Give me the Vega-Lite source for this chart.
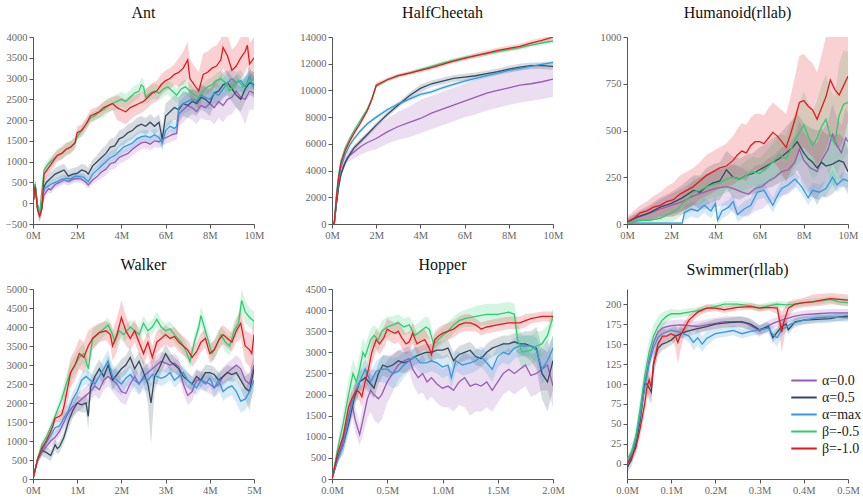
{
"$schema":"https://vega.github.io/schema/vega-lite/v6.json",
"config":{"view":{"stroke":null},"font":"Liberation Serif",
"axis":{"grid":false,"title":null,"labelFont":"Liberation Serif","labelFontSize":10.5,"labelColor":"#666","domainColor":"#555","tickColor":"#555","tickSize":4,"labelPadding":2,"labelFlush":false,"labelOverlap":false,"labelBound":false,"labelSeparation":0},
"axisY":{"labelOverlap":false},"axisX":{"labelOverlap":false},"axisQuantitative":{"labelOverlap":false},
"title":{"font":"Liberation Serif","fontSize":16,"fontWeight":"normal","color":"#111","offset":11,"anchor":"middle"}},
"columns":3,
"spacing":{"row":16,"column":35},
"resolve":{"legend":{"color":"independent"}},
"datasets":{
"ant":[
{"s":"a0","x":0,"y":0,"l":-100,"h":100},{"s":"a0","x":0.1,"y":400,"l":300,"h":500},{"s":"a0","x":0.2,"y":-100,"l":-200,"h":0},{"s":"a0","x":0.3,"y":-250,"l":-350,"h":-150},{"s":"a0","x":0.4,"y":-100,"l":-200,"h":0},{"s":"a0","x":0.5,"y":200,"l":100,"h":300},{"s":"a0","x":0.7,"y":350,"l":250,"h":450},{"s":"a0","x":0.8,"y":320,"l":220,"h":420},{"s":"a0","x":1.0,"y":450,"l":350,"h":550},{"s":"a0","x":1.2,"y":500,"l":400,"h":600},{"s":"a0","x":1.4,"y":560,"l":460,"h":660},{"s":"a0","x":1.6,"y":520,"l":420,"h":620},{"s":"a0","x":1.8,"y":580,"l":480,"h":680},{"s":"a0","x":2.0,"y":600,"l":500,"h":700},{"s":"a0","x":2.2,"y":580,"l":480,"h":680},{"s":"a0","x":2.4,"y":500,"l":400,"h":600},{"s":"a0","x":2.5,"y":440,"l":340,"h":540},{"s":"a0","x":2.7,"y":560,"l":460,"h":660},{"s":"a0","x":2.9,"y":640,"l":540,"h":740},{"s":"a0","x":3.1,"y":750,"l":600,"h":900},{"s":"a0","x":3.3,"y":820,"l":670,"h":970},{"s":"a0","x":3.5,"y":950,"l":800,"h":1100},{"s":"a0","x":3.7,"y":980,"l":830,"h":1130},{"s":"a0","x":3.9,"y":1100,"l":950,"h":1250},{"s":"a0","x":4.1,"y":1150,"l":1000,"h":1300},{"s":"a0","x":4.3,"y":1200,"l":1050,"h":1350},{"s":"a0","x":4.5,"y":1300,"l":1150,"h":1450},{"s":"a0","x":4.7,"y":1380,"l":1230,"h":1530},{"s":"a0","x":4.9,"y":1450,"l":1300,"h":1600},{"s":"a0","x":5.1,"y":1470,"l":1320,"h":1620},{"s":"a0","x":5.3,"y":1420,"l":1270,"h":1570},{"s":"a0","x":5.5,"y":1500,"l":1350,"h":1650},{"s":"a0","x":5.7,"y":1480,"l":1330,"h":1630},{"s":"a0","x":5.9,"y":1550,"l":1400,"h":1700},{"s":"a0","x":6.1,"y":1600,"l":1450,"h":1750},{"s":"a0","x":6.3,"y":1650,"l":1500,"h":1800},{"s":"a0","x":6.5,"y":1680,"l":1530,"h":1830},{"s":"a0","x":6.6,"y":2150,"l":1850,"h":2450},{"s":"a0","x":6.8,"y":2250,"l":1950,"h":2550},{"s":"a0","x":7.0,"y":2350,"l":2050,"h":2650},{"s":"a0","x":7.2,"y":2300,"l":2000,"h":2600},{"s":"a0","x":7.4,"y":2200,"l":1900,"h":2500},{"s":"a0","x":7.6,"y":2350,"l":2050,"h":2650},{"s":"a0","x":7.8,"y":2300,"l":2000,"h":2600},{"s":"a0","x":8.0,"y":2400,"l":2000,"h":2800},{"s":"a0","x":8.2,"y":2300,"l":1900,"h":2700},{"s":"a0","x":8.4,"y":2450,"l":2050,"h":2850},{"s":"a0","x":8.6,"y":2350,"l":1950,"h":2750},{"s":"a0","x":8.8,"y":2500,"l":2100,"h":2900},{"s":"a0","x":9.0,"y":2550,"l":2150,"h":2950},{"s":"a0","x":9.2,"y":2700,"l":2300,"h":3100},{"s":"a0","x":9.4,"y":2550,"l":2150,"h":2950},{"s":"a0","x":9.6,"y":2500,"l":1900,"h":3000},{"s":"a0","x":9.8,"y":2700,"l":2250,"h":3150},{"s":"a0","x":10,"y":2650,"l":2250,"h":3050},
{"s":"a5","x":0,"y":0,"l":-150,"h":150},{"s":"a5","x":0.1,"y":450,"l":300,"h":600},{"s":"a5","x":0.2,"y":-50,"l":-200,"h":100},{"s":"a5","x":0.3,"y":-300,"l":-450,"h":-150},{"s":"a5","x":0.4,"y":-100,"l":-250,"h":50},{"s":"a5","x":0.5,"y":400,"l":250,"h":550},{"s":"a5","x":0.6,"y":500,"l":350,"h":650},{"s":"a5","x":0.8,"y":600,"l":450,"h":750},{"s":"a5","x":1.0,"y":700,"l":550,"h":850},{"s":"a5","x":1.2,"y":750,"l":600,"h":900},{"s":"a5","x":1.4,"y":800,"l":650,"h":950},{"s":"a5","x":1.5,"y":730,"l":580,"h":880},{"s":"a5","x":1.6,"y":650,"l":500,"h":800},{"s":"a5","x":1.8,"y":700,"l":550,"h":850},{"s":"a5","x":2.0,"y":720,"l":570,"h":870},{"s":"a5","x":2.2,"y":800,"l":650,"h":950},{"s":"a5","x":2.4,"y":760,"l":610,"h":910},{"s":"a5","x":2.5,"y":700,"l":550,"h":850},{"s":"a5","x":2.7,"y":900,"l":750,"h":1050},{"s":"a5","x":2.9,"y":1000,"l":850,"h":1150},{"s":"a5","x":3.1,"y":1100,"l":900,"h":1300},{"s":"a5","x":3.3,"y":1200,"l":1000,"h":1400},{"s":"a5","x":3.5,"y":1350,"l":1150,"h":1550},{"s":"a5","x":3.7,"y":1380,"l":1180,"h":1580},{"s":"a5","x":3.9,"y":1550,"l":1350,"h":1750},{"s":"a5","x":4.1,"y":1600,"l":1400,"h":1800},{"s":"a5","x":4.3,"y":1700,"l":1500,"h":1900},{"s":"a5","x":4.5,"y":1750,"l":1550,"h":1950},{"s":"a5","x":4.7,"y":1850,"l":1650,"h":2050},{"s":"a5","x":4.9,"y":1900,"l":1700,"h":2100},{"s":"a5","x":5.1,"y":1850,"l":1650,"h":2050},{"s":"a5","x":5.3,"y":1950,"l":1750,"h":2150},{"s":"a5","x":5.5,"y":1850,"l":1650,"h":2050},{"s":"a5","x":5.7,"y":1950,"l":1750,"h":2150},{"s":"a5","x":5.85,"y":1550,"l":1250,"h":1850},{"s":"a5","x":6.0,"y":2100,"l":1800,"h":2400},{"s":"a5","x":6.2,"y":2200,"l":1900,"h":2500},{"s":"a5","x":6.4,"y":2300,"l":2000,"h":2600},{"s":"a5","x":6.6,"y":2250,"l":1950,"h":2550},{"s":"a5","x":6.8,"y":2400,"l":2100,"h":2700},{"s":"a5","x":7.0,"y":2350,"l":2050,"h":2650},{"s":"a5","x":7.2,"y":2450,"l":2150,"h":2750},{"s":"a5","x":7.4,"y":2400,"l":2100,"h":2700},{"s":"a5","x":7.6,"y":2550,"l":2250,"h":2850},{"s":"a5","x":7.8,"y":2500,"l":2200,"h":2800},{"s":"a5","x":8.0,"y":2400,"l":2100,"h":2700},{"s":"a5","x":8.2,"y":2650,"l":2350,"h":2950},{"s":"a5","x":8.4,"y":2700,"l":2400,"h":3000},{"s":"a5","x":8.6,"y":2850,"l":2550,"h":3150},{"s":"a5","x":8.8,"y":2900,"l":2600,"h":3200},{"s":"a5","x":9.0,"y":2750,"l":2450,"h":3050},{"s":"a5","x":9.2,"y":2600,"l":2300,"h":2900},{"s":"a5","x":9.4,"y":2500,"l":2200,"h":2800},{"s":"a5","x":9.6,"y":2750,"l":2450,"h":3050},{"s":"a5","x":9.8,"y":2900,"l":2600,"h":3200},{"s":"a5","x":10,"y":2850,"l":2550,"h":3150},
{"s":"am","x":0,"y":0,"l":-100,"h":100},{"s":"am","x":0.1,"y":420,"l":320,"h":520},{"s":"am","x":0.2,"y":-100,"l":-200,"h":0},{"s":"am","x":0.3,"y":-280,"l":-380,"h":-180},{"s":"am","x":0.4,"y":-50,"l":-150,"h":50},{"s":"am","x":0.5,"y":350,"l":250,"h":450},{"s":"am","x":0.7,"y":420,"l":320,"h":520},{"s":"am","x":0.9,"y":480,"l":380,"h":580},{"s":"am","x":1.1,"y":520,"l":420,"h":620},{"s":"am","x":1.3,"y":580,"l":480,"h":680},{"s":"am","x":1.5,"y":600,"l":500,"h":700},{"s":"am","x":1.7,"y":580,"l":480,"h":680},{"s":"am","x":1.9,"y":650,"l":550,"h":750},{"s":"am","x":2.1,"y":640,"l":540,"h":740},{"s":"am","x":2.3,"y":620,"l":520,"h":720},{"s":"am","x":2.5,"y":520,"l":420,"h":620},{"s":"am","x":2.7,"y":700,"l":600,"h":800},{"s":"am","x":2.9,"y":800,"l":700,"h":900},{"s":"am","x":3.1,"y":900,"l":750,"h":1050},{"s":"am","x":3.3,"y":1000,"l":850,"h":1150},{"s":"am","x":3.5,"y":1100,"l":950,"h":1250},{"s":"am","x":3.7,"y":1150,"l":1000,"h":1300},{"s":"am","x":3.9,"y":1250,"l":1100,"h":1400},{"s":"am","x":4.1,"y":1350,"l":1200,"h":1500},{"s":"am","x":4.3,"y":1400,"l":1250,"h":1550},{"s":"am","x":4.5,"y":1450,"l":1300,"h":1600},{"s":"am","x":4.7,"y":1550,"l":1400,"h":1700},{"s":"am","x":4.9,"y":1600,"l":1450,"h":1750},{"s":"am","x":5.1,"y":1620,"l":1470,"h":1770},{"s":"am","x":5.3,"y":1580,"l":1430,"h":1730},{"s":"am","x":5.5,"y":1650,"l":1500,"h":1800},{"s":"am","x":5.7,"y":1580,"l":1430,"h":1730},{"s":"am","x":5.85,"y":1450,"l":1300,"h":1600},{"s":"am","x":6.0,"y":1750,"l":1600,"h":1900},{"s":"am","x":6.2,"y":1850,"l":1700,"h":2000},{"s":"am","x":6.4,"y":1800,"l":1650,"h":1950},{"s":"am","x":6.5,"y":1850,"l":1700,"h":2000},{"s":"am","x":6.6,"y":2300,"l":2050,"h":2550},{"s":"am","x":6.8,"y":2400,"l":2150,"h":2650},{"s":"am","x":7.0,"y":2450,"l":2200,"h":2700},{"s":"am","x":7.2,"y":2500,"l":2250,"h":2750},{"s":"am","x":7.4,"y":2450,"l":2200,"h":2700},{"s":"am","x":7.6,"y":2600,"l":2350,"h":2850},{"s":"am","x":7.8,"y":2550,"l":2300,"h":2800},{"s":"am","x":8.0,"y":2500,"l":2250,"h":2750},{"s":"am","x":8.2,"y":2650,"l":2400,"h":2900},{"s":"am","x":8.4,"y":2600,"l":2350,"h":2850},{"s":"am","x":8.6,"y":2750,"l":2500,"h":3000},{"s":"am","x":8.8,"y":2900,"l":2650,"h":3150},{"s":"am","x":9.0,"y":3000,"l":2750,"h":3250},{"s":"am","x":9.2,"y":2900,"l":2650,"h":3150},{"s":"am","x":9.4,"y":2950,"l":2700,"h":3200},{"s":"am","x":9.6,"y":2800,"l":2550,"h":3050},{"s":"am","x":9.8,"y":3050,"l":2800,"h":3300},{"s":"am","x":10,"y":2750,"l":2500,"h":3000},
{"s":"b5","x":0,"y":0,"l":-120,"h":120},{"s":"b5","x":0.1,"y":450,"l":330,"h":570},{"s":"b5","x":0.2,"y":-50,"l":-170,"h":70},{"s":"b5","x":0.3,"y":-250,"l":-370,"h":-130},{"s":"b5","x":0.4,"y":300,"l":180,"h":420},{"s":"b5","x":0.5,"y":800,"l":680,"h":920},{"s":"b5","x":0.7,"y":950,"l":830,"h":1070},{"s":"b5","x":0.9,"y":1050,"l":930,"h":1170},{"s":"b5","x":1.1,"y":1150,"l":1030,"h":1270},{"s":"b5","x":1.3,"y":1200,"l":1050,"h":1350},{"s":"b5","x":1.5,"y":1300,"l":1150,"h":1450},{"s":"b5","x":1.7,"y":1350,"l":1200,"h":1500},{"s":"b5","x":1.9,"y":1450,"l":1330,"h":1570},{"s":"b5","x":2.0,"y":1600,"l":1480,"h":1720},{"s":"b5","x":2.2,"y":1750,"l":1630,"h":1870},{"s":"b5","x":2.4,"y":1900,"l":1780,"h":2020},{"s":"b5","x":2.6,"y":2050,"l":1930,"h":2170},{"s":"b5","x":2.8,"y":2100,"l":1980,"h":2220},{"s":"b5","x":3.0,"y":2200,"l":2050,"h":2350},{"s":"b5","x":3.2,"y":2250,"l":2070,"h":2430},{"s":"b5","x":3.4,"y":2350,"l":2170,"h":2530},{"s":"b5","x":3.6,"y":2400,"l":2220,"h":2580},{"s":"b5","x":3.8,"y":2450,"l":2270,"h":2630},{"s":"b5","x":4.0,"y":2500,"l":2320,"h":2680},{"s":"b5","x":4.2,"y":2450,"l":2270,"h":2630},{"s":"b5","x":4.4,"y":2550,"l":2370,"h":2730},{"s":"b5","x":4.6,"y":2650,"l":2470,"h":2830},{"s":"b5","x":4.8,"y":2700,"l":2520,"h":2880},{"s":"b5","x":4.9,"y":2850,"l":2670,"h":3030},{"s":"b5","x":5.0,"y":2800,"l":2620,"h":2980},{"s":"b5","x":5.1,"y":2550,"l":2370,"h":2730},{"s":"b5","x":5.3,"y":2650,"l":2470,"h":2830},{"s":"b5","x":5.5,"y":2700,"l":2520,"h":2880},{"s":"b5","x":5.7,"y":2650,"l":2470,"h":2830},{"s":"b5","x":5.9,"y":2750,"l":2570,"h":2930},{"s":"b5","x":6.1,"y":2800,"l":2620,"h":2980},{"s":"b5","x":6.3,"y":2700,"l":2520,"h":2880},{"s":"b5","x":6.5,"y":2600,"l":2420,"h":2780},{"s":"b5","x":6.7,"y":2750,"l":2570,"h":2930},{"s":"b5","x":6.9,"y":2800,"l":2620,"h":2980},{"s":"b5","x":7.1,"y":2700,"l":2520,"h":2880},{"s":"b5","x":7.3,"y":2600,"l":2420,"h":2780},{"s":"b5","x":7.5,"y":2550,"l":2370,"h":2730},{"s":"b5","x":7.7,"y":2700,"l":2520,"h":2880},{"s":"b5","x":7.9,"y":2800,"l":2620,"h":2980},{"s":"b5","x":8.1,"y":2850,"l":2670,"h":3030},{"s":"b5","x":8.3,"y":2950,"l":2770,"h":3130},{"s":"b5","x":8.5,"y":3000,"l":2820,"h":3180},{"s":"b5","x":8.7,"y":2900,"l":2720,"h":3080},{"s":"b5","x":8.9,"y":2700,"l":2520,"h":2880},{"s":"b5","x":9.1,"y":2850,"l":2670,"h":3030},{"s":"b5","x":9.3,"y":2950,"l":2770,"h":3130},{"s":"b5","x":9.5,"y":2800,"l":2620,"h":2980},{"s":"b5","x":9.7,"y":2900,"l":2720,"h":3080},{"s":"b5","x":9.9,"y":2950,"l":2770,"h":3130},{"s":"b5","x":10,"y":3000,"l":2820,"h":3180},
{"s":"b1","x":0,"y":0,"l":-150,"h":150},{"s":"b1","x":0.1,"y":400,"l":250,"h":550},{"s":"b1","x":0.2,"y":-150,"l":-300,"h":0},{"s":"b1","x":0.3,"y":-300,"l":-450,"h":-150},{"s":"b1","x":0.4,"y":-150,"l":-300,"h":0},{"s":"b1","x":0.5,"y":700,"l":550,"h":850},{"s":"b1","x":0.7,"y":850,"l":700,"h":1000},{"s":"b1","x":0.9,"y":1000,"l":850,"h":1150},{"s":"b1","x":1.1,"y":1150,"l":1000,"h":1300},{"s":"b1","x":1.3,"y":1200,"l":1050,"h":1350},{"s":"b1","x":1.5,"y":1300,"l":1150,"h":1450},{"s":"b1","x":1.7,"y":1350,"l":1200,"h":1500},{"s":"b1","x":1.9,"y":1450,"l":1300,"h":1600},{"s":"b1","x":2.0,"y":1700,"l":1550,"h":1850},{"s":"b1","x":2.2,"y":1750,"l":1600,"h":1900},{"s":"b1","x":2.4,"y":1900,"l":1750,"h":2050},{"s":"b1","x":2.6,"y":2100,"l":1950,"h":2250},{"s":"b1","x":2.8,"y":2150,"l":2000,"h":2300},{"s":"b1","x":3.0,"y":2200,"l":2050,"h":2350},{"s":"b1","x":3.2,"y":2300,"l":2150,"h":2450},{"s":"b1","x":3.4,"y":2350,"l":2200,"h":2500},{"s":"b1","x":3.6,"y":2400,"l":2250,"h":2550},{"s":"b1","x":3.8,"y":2300,"l":2000,"h":2600},{"s":"b1","x":4.0,"y":2250,"l":1950,"h":2550},{"s":"b1","x":4.2,"y":2200,"l":1900,"h":2500},{"s":"b1","x":4.4,"y":2300,"l":2000,"h":2600},{"s":"b1","x":4.6,"y":2350,"l":2100,"h":2600},{"s":"b1","x":4.8,"y":2400,"l":2150,"h":2650},{"s":"b1","x":5.0,"y":2450,"l":2200,"h":2700},{"s":"b1","x":5.2,"y":2550,"l":2300,"h":2800},{"s":"b1","x":5.4,"y":2650,"l":2400,"h":2900},{"s":"b1","x":5.6,"y":2700,"l":2450,"h":2950},{"s":"b1","x":5.8,"y":2850,"l":2600,"h":3100},{"s":"b1","x":6.0,"y":2950,"l":2700,"h":3200},{"s":"b1","x":6.2,"y":3000,"l":2750,"h":3250},{"s":"b1","x":6.4,"y":3100,"l":2850,"h":3350},{"s":"b1","x":6.6,"y":3150,"l":2800,"h":3500},{"s":"b1","x":6.8,"y":3250,"l":2850,"h":3650},{"s":"b1","x":7.0,"y":3450,"l":3000,"h":3900},{"s":"b1","x":7.1,"y":3000,"l":2550,"h":3450},{"s":"b1","x":7.3,"y":2850,"l":2400,"h":3300},{"s":"b1","x":7.5,"y":2700,"l":2250,"h":3150},{"s":"b1","x":7.7,"y":3100,"l":2600,"h":3600},{"s":"b1","x":7.9,"y":3150,"l":2650,"h":3650},{"s":"b1","x":8.1,"y":3250,"l":2750,"h":3750},{"s":"b1","x":8.3,"y":3300,"l":2800,"h":3800},{"s":"b1","x":8.5,"y":3450,"l":2950,"h":3950},{"s":"b1","x":8.6,"y":3750,"l":3250,"h":4250},{"s":"b1","x":8.8,"y":3550,"l":3050,"h":4050},{"s":"b1","x":9.0,"y":3200,"l":2700,"h":3700},{"s":"b1","x":9.2,"y":3300,"l":2800,"h":3800},{"s":"b1","x":9.4,"y":3500,"l":3000,"h":4000},{"s":"b1","x":9.6,"y":3650,"l":3150,"h":4150},{"s":"b1","x":9.7,"y":3800,"l":3300,"h":4300},{"s":"b1","x":9.8,"y":3350,"l":2850,"h":3850},{"s":"b1","x":10,"y":3500,"l":3000,"h":4000}
],
"hc":[
{"s":"a0","x":0,"y":0,"l":0,"h":0},{"s":"a0","x":0.1,"y":0,"l":0,"h":200},{"s":"a0","x":0.2,"y":1500,"l":1300,"h":1700},{"s":"a0","x":0.3,"y":2800,"l":2600,"h":3000},{"s":"a0","x":0.4,"y":3700,"l":3450,"h":3950},{"s":"a0","x":0.5,"y":4300,"l":4000,"h":4600},{"s":"a0","x":0.7,"y":5000,"l":4600,"h":5400},{"s":"a0","x":1.0,"y":5400,"l":4900,"h":5900},{"s":"a0","x":1.3,"y":5800,"l":5200,"h":6400},{"s":"a0","x":1.6,"y":6100,"l":5400,"h":6800},{"s":"a0","x":2.0,"y":6400,"l":5600,"h":7400},{"s":"a0","x":2.5,"y":6900,"l":6000,"h":7900},{"s":"a0","x":3.0,"y":7300,"l":6300,"h":8400},{"s":"a0","x":3.5,"y":7600,"l":6500,"h":8800},{"s":"a0","x":4.0,"y":7900,"l":6800,"h":9300},{"s":"a0","x":4.5,"y":8300,"l":7100,"h":9600},{"s":"a0","x":5.0,"y":8600,"l":7400,"h":9900},{"s":"a0","x":5.5,"y":8900,"l":7700,"h":10200},{"s":"a0","x":6.0,"y":9200,"l":8000,"h":10500},{"s":"a0","x":6.5,"y":9500,"l":8200,"h":10800},{"s":"a0","x":7.0,"y":9800,"l":8500,"h":11000},{"s":"a0","x":7.5,"y":10000,"l":8700,"h":11200},{"s":"a0","x":8.0,"y":10200,"l":8900,"h":11400},{"s":"a0","x":8.5,"y":10400,"l":9100,"h":11600},{"s":"a0","x":9.0,"y":10500,"l":9200,"h":11700},{"s":"a0","x":9.5,"y":10650,"l":9350,"h":11800},{"s":"a0","x":10,"y":10850,"l":9500,"h":11800},
{"s":"a5","x":0,"y":0,"l":0,"h":0},{"s":"a5","x":0.1,"y":0,"l":0,"h":200},{"s":"a5","x":0.2,"y":1500,"l":1300,"h":1700},{"s":"a5","x":0.3,"y":2800,"l":2600,"h":3000},{"s":"a5","x":0.4,"y":3700,"l":3500,"h":3900},{"s":"a5","x":0.6,"y":4600,"l":4400,"h":4800},{"s":"a5","x":0.8,"y":5200,"l":5000,"h":5400},{"s":"a5","x":1.0,"y":5700,"l":5500,"h":5900},{"s":"a5","x":1.3,"y":6200,"l":6000,"h":6400},{"s":"a5","x":1.6,"y":6700,"l":6500,"h":6900},{"s":"a5","x":2.0,"y":7400,"l":7200,"h":7600},{"s":"a5","x":2.5,"y":8200,"l":8000,"h":8400},{"s":"a5","x":3.0,"y":8900,"l":8700,"h":9100},{"s":"a5","x":3.5,"y":9600,"l":9350,"h":9850},{"s":"a5","x":4.0,"y":10150,"l":9850,"h":10450},{"s":"a5","x":4.5,"y":10500,"l":10250,"h":10750},{"s":"a5","x":5.0,"y":10700,"l":10450,"h":10950},{"s":"a5","x":5.5,"y":10900,"l":10650,"h":11150},{"s":"a5","x":6.0,"y":11000,"l":10750,"h":11250},{"s":"a5","x":6.5,"y":11100,"l":10850,"h":11350},{"s":"a5","x":7.0,"y":11250,"l":11000,"h":11500},{"s":"a5","x":7.5,"y":11400,"l":11150,"h":11650},{"s":"a5","x":8.0,"y":11600,"l":11350,"h":11850},{"s":"a5","x":8.5,"y":11750,"l":11500,"h":12000},{"s":"a5","x":9.0,"y":11850,"l":11600,"h":12100},{"s":"a5","x":9.5,"y":11850,"l":11600,"h":12100},{"s":"a5","x":10,"y":11800,"l":11550,"h":12050},
{"s":"am","x":0,"y":0,"l":0,"h":0},{"s":"am","x":0.1,"y":0,"l":0,"h":150},{"s":"am","x":0.2,"y":1800,"l":1650,"h":1950},{"s":"am","x":0.3,"y":3200,"l":3050,"h":3350},{"s":"am","x":0.4,"y":4200,"l":4050,"h":4350},{"s":"am","x":0.6,"y":5200,"l":5050,"h":5350},{"s":"am","x":0.8,"y":5900,"l":5750,"h":6050},{"s":"am","x":1.0,"y":6400,"l":6250,"h":6550},{"s":"am","x":1.3,"y":7000,"l":6850,"h":7150},{"s":"am","x":1.6,"y":7500,"l":7350,"h":7650},{"s":"am","x":2.0,"y":8000,"l":7850,"h":8150},{"s":"am","x":2.5,"y":8550,"l":8400,"h":8700},{"s":"am","x":3.0,"y":9000,"l":8850,"h":9150},{"s":"am","x":3.5,"y":9350,"l":9200,"h":9500},{"s":"am","x":4.0,"y":9700,"l":9550,"h":9850},{"s":"am","x":4.5,"y":9900,"l":9750,"h":10050},{"s":"am","x":5.0,"y":10200,"l":10050,"h":10350},{"s":"am","x":5.5,"y":10450,"l":10300,"h":10600},{"s":"am","x":6.0,"y":10700,"l":10550,"h":10850},{"s":"am","x":6.5,"y":10900,"l":10750,"h":11050},{"s":"am","x":7.0,"y":11100,"l":10950,"h":11250},{"s":"am","x":7.5,"y":11300,"l":11150,"h":11450},{"s":"am","x":8.0,"y":11500,"l":11350,"h":11650},{"s":"am","x":8.5,"y":11650,"l":11500,"h":11800},{"s":"am","x":9.0,"y":11800,"l":11650,"h":11950},{"s":"am","x":9.5,"y":11950,"l":11800,"h":12100},{"s":"am","x":10,"y":12100,"l":11950,"h":12250},
{"s":"b5","x":0,"y":0,"l":0,"h":0},{"s":"b5","x":0.1,"y":0,"l":0,"h":120},{"s":"b5","x":0.2,"y":2200,"l":2080,"h":2320},{"s":"b5","x":0.3,"y":3700,"l":3580,"h":3820},{"s":"b5","x":0.4,"y":4700,"l":4580,"h":4820},{"s":"b5","x":0.6,"y":5700,"l":5580,"h":5820},{"s":"b5","x":0.8,"y":6400,"l":6280,"h":6520},{"s":"b5","x":1.0,"y":7000,"l":6880,"h":7120},{"s":"b5","x":1.3,"y":7800,"l":7680,"h":7920},{"s":"b5","x":1.6,"y":8600,"l":8480,"h":8720},{"s":"b5","x":1.8,"y":9400,"l":9280,"h":9520},{"s":"b5","x":2.0,"y":10300,"l":10180,"h":10420},{"s":"b5","x":2.5,"y":10800,"l":10680,"h":10920},{"s":"b5","x":3.0,"y":11100,"l":10980,"h":11220},{"s":"b5","x":3.5,"y":11300,"l":11180,"h":11420},{"s":"b5","x":4.0,"y":11550,"l":11430,"h":11670},{"s":"b5","x":4.5,"y":11800,"l":11650,"h":11950},{"s":"b5","x":5.0,"y":12050,"l":11900,"h":12200},{"s":"b5","x":5.5,"y":12250,"l":12100,"h":12400},{"s":"b5","x":6.0,"y":12450,"l":12300,"h":12600},{"s":"b5","x":6.5,"y":12600,"l":12450,"h":12750},{"s":"b5","x":7.0,"y":12750,"l":12600,"h":12900},{"s":"b5","x":7.5,"y":12900,"l":12750,"h":13050},{"s":"b5","x":8.0,"y":13050,"l":12900,"h":13200},{"s":"b5","x":8.5,"y":13200,"l":13050,"h":13350},{"s":"b5","x":9.0,"y":13400,"l":13250,"h":13550},{"s":"b5","x":9.5,"y":13550,"l":13400,"h":13700},{"s":"b5","x":10,"y":13700,"l":13550,"h":13850},
{"s":"b1","x":0,"y":0,"l":0,"h":0},{"s":"b1","x":0.1,"y":0,"l":0,"h":150},{"s":"b1","x":0.2,"y":2000,"l":1850,"h":2150},{"s":"b1","x":0.3,"y":3500,"l":3350,"h":3650},{"s":"b1","x":0.4,"y":4500,"l":4350,"h":4650},{"s":"b1","x":0.6,"y":5500,"l":5350,"h":5650},{"s":"b1","x":0.8,"y":6200,"l":6050,"h":6350},{"s":"b1","x":1.0,"y":6800,"l":6650,"h":6950},{"s":"b1","x":1.3,"y":7600,"l":7450,"h":7750},{"s":"b1","x":1.6,"y":8500,"l":8350,"h":8650},{"s":"b1","x":1.8,"y":9300,"l":9150,"h":9450},{"s":"b1","x":2.0,"y":10400,"l":10200,"h":10600},{"s":"b1","x":2.5,"y":10800,"l":10650,"h":10950},{"s":"b1","x":3.0,"y":11100,"l":10950,"h":11250},{"s":"b1","x":3.5,"y":11300,"l":11150,"h":11450},{"s":"b1","x":4.0,"y":11500,"l":11350,"h":11650},{"s":"b1","x":4.5,"y":11700,"l":11550,"h":11850},{"s":"b1","x":5.0,"y":11950,"l":11800,"h":12100},{"s":"b1","x":5.5,"y":12200,"l":12050,"h":12350},{"s":"b1","x":6.0,"y":12400,"l":12250,"h":12550},{"s":"b1","x":6.5,"y":12600,"l":12400,"h":12800},{"s":"b1","x":7.0,"y":12800,"l":12600,"h":13000},{"s":"b1","x":7.5,"y":13000,"l":12800,"h":13200},{"s":"b1","x":8.0,"y":13150,"l":12950,"h":13350},{"s":"b1","x":8.5,"y":13300,"l":13100,"h":13500},{"s":"b1","x":9.0,"y":13550,"l":13350,"h":13750},{"s":"b1","x":9.5,"y":13750,"l":13550,"h":13950},{"s":"b1","x":10,"y":14000,"l":13800,"h":14150}
],
"hum":[
{"s":"a0","x":0,"y":10,"l":0,"h":30},{"s":"a0","x":0.5,"y":35,"l":10,"h":60},{"s":"a0","x":1.0,"y":55,"l":20,"h":90},{"s":"a0","x":1.5,"y":80,"l":30,"h":130},{"s":"a0","x":2.0,"y":100,"l":40,"h":160},{"s":"a0","x":2.5,"y":120,"l":50,"h":190},{"s":"a0","x":3.0,"y":150,"l":70,"h":230},{"s":"a0","x":3.5,"y":170,"l":80,"h":260},{"s":"a0","x":4.0,"y":190,"l":90,"h":290},{"s":"a0","x":4.5,"y":200,"l":100,"h":300},{"s":"a0","x":4.8,"y":190,"l":60,"h":320},{"s":"a0","x":5.2,"y":170,"l":40,"h":300},{"s":"a0","x":5.5,"y":160,"l":40,"h":280},{"s":"a0","x":5.8,"y":190,"l":70,"h":310},{"s":"a0","x":6.1,"y":200,"l":80,"h":320},{"s":"a0","x":6.4,"y":230,"l":110,"h":350},{"s":"a0","x":6.7,"y":250,"l":130,"h":370},{"s":"a0","x":7.0,"y":280,"l":150,"h":410},{"s":"a0","x":7.3,"y":290,"l":160,"h":420},{"s":"a0","x":7.6,"y":330,"l":190,"h":470},{"s":"a0","x":7.8,"y":400,"l":250,"h":550},{"s":"a0","x":8.0,"y":340,"l":190,"h":490},{"s":"a0","x":8.3,"y":300,"l":150,"h":450},{"s":"a0","x":8.6,"y":280,"l":130,"h":430},{"s":"a0","x":8.8,"y":340,"l":190,"h":490},{"s":"a0","x":9.1,"y":400,"l":250,"h":550},{"s":"a0","x":9.3,"y":480,"l":320,"h":640},{"s":"a0","x":9.5,"y":420,"l":270,"h":570},{"s":"a0","x":9.7,"y":380,"l":230,"h":530},{"s":"a0","x":9.9,"y":460,"l":300,"h":620},{"s":"a0","x":10,"y":440,"l":290,"h":590},
{"s":"a5","x":0,"y":10,"l":0,"h":30},{"s":"a5","x":0.5,"y":40,"l":10,"h":70},{"s":"a5","x":1.0,"y":60,"l":20,"h":100},{"s":"a5","x":1.5,"y":90,"l":40,"h":140},{"s":"a5","x":2.0,"y":110,"l":50,"h":170},{"s":"a5","x":2.5,"y":140,"l":70,"h":210},{"s":"a5","x":3.0,"y":180,"l":100,"h":260},{"s":"a5","x":3.3,"y":170,"l":80,"h":260},{"s":"a5","x":3.6,"y":200,"l":100,"h":300},{"s":"a5","x":3.9,"y":220,"l":120,"h":320},{"s":"a5","x":4.2,"y":230,"l":130,"h":330},{"s":"a5","x":4.5,"y":290,"l":190,"h":390},{"s":"a5","x":4.8,"y":250,"l":140,"h":360},{"s":"a5","x":5.1,"y":240,"l":130,"h":350},{"s":"a5","x":5.4,"y":260,"l":150,"h":370},{"s":"a5","x":5.7,"y":270,"l":160,"h":380},{"s":"a5","x":6.0,"y":290,"l":170,"h":410},{"s":"a5","x":6.3,"y":310,"l":190,"h":430},{"s":"a5","x":6.6,"y":330,"l":200,"h":460},{"s":"a5","x":6.9,"y":350,"l":220,"h":480},{"s":"a5","x":7.2,"y":380,"l":240,"h":520},{"s":"a5","x":7.5,"y":410,"l":260,"h":560},{"s":"a5","x":7.7,"y":440,"l":290,"h":590},{"s":"a5","x":8.0,"y":380,"l":220,"h":540},{"s":"a5","x":8.2,"y":350,"l":180,"h":520},{"s":"a5","x":8.4,"y":330,"l":150,"h":510},{"s":"a5","x":8.6,"y":300,"l":100,"h":500},{"s":"a5","x":8.8,"y":330,"l":150,"h":510},{"s":"a5","x":9.0,"y":310,"l":140,"h":480},{"s":"a5","x":9.3,"y":320,"l":160,"h":480},{"s":"a5","x":9.6,"y":340,"l":200,"h":480},{"s":"a5","x":9.8,"y":330,"l":200,"h":460},{"s":"a5","x":10,"y":280,"l":160,"h":400},
{"s":"am","x":0,"y":5,"l":0,"h":10},{"s":"am","x":1.0,"y":5,"l":0,"h":10},{"s":"am","x":2.0,"y":5,"l":0,"h":10},{"s":"am","x":2.5,"y":5,"l":0,"h":10},{"s":"am","x":2.6,"y":60,"l":20,"h":100},{"s":"am","x":2.9,"y":80,"l":40,"h":120},{"s":"am","x":3.2,"y":70,"l":30,"h":110},{"s":"am","x":3.5,"y":100,"l":60,"h":140},{"s":"am","x":3.8,"y":70,"l":30,"h":110},{"s":"am","x":4.0,"y":110,"l":70,"h":150},{"s":"am","x":4.1,"y":20,"l":0,"h":60},{"s":"am","x":4.3,"y":70,"l":30,"h":110},{"s":"am","x":4.6,"y":90,"l":50,"h":130},{"s":"am","x":4.8,"y":120,"l":80,"h":160},{"s":"am","x":5.0,"y":50,"l":10,"h":90},{"s":"am","x":5.3,"y":80,"l":40,"h":120},{"s":"am","x":5.6,"y":100,"l":60,"h":140},{"s":"am","x":5.9,"y":170,"l":130,"h":210},{"s":"am","x":6.2,"y":180,"l":140,"h":220},{"s":"am","x":6.4,"y":140,"l":100,"h":180},{"s":"am","x":6.6,"y":100,"l":60,"h":140},{"s":"am","x":6.8,"y":150,"l":110,"h":190},{"s":"am","x":7.0,"y":190,"l":150,"h":230},{"s":"am","x":7.3,"y":210,"l":170,"h":250},{"s":"am","x":7.6,"y":240,"l":200,"h":280},{"s":"am","x":7.9,"y":200,"l":160,"h":240},{"s":"am","x":8.2,"y":140,"l":100,"h":180},{"s":"am","x":8.4,"y":180,"l":140,"h":220},{"s":"am","x":8.7,"y":170,"l":130,"h":210},{"s":"am","x":9.0,"y":190,"l":150,"h":230},{"s":"am","x":9.3,"y":250,"l":210,"h":290},{"s":"am","x":9.5,"y":210,"l":170,"h":250},{"s":"am","x":9.8,"y":240,"l":200,"h":280},{"s":"am","x":10,"y":230,"l":190,"h":270},
{"s":"b5","x":0,"y":5,"l":0,"h":20},{"s":"b5","x":0.5,"y":20,"l":0,"h":45},{"s":"b5","x":1.0,"y":20,"l":0,"h":50},{"s":"b5","x":1.5,"y":30,"l":0,"h":70},{"s":"b5","x":2.0,"y":60,"l":10,"h":110},{"s":"b5","x":2.3,"y":80,"l":30,"h":130},{"s":"b5","x":2.5,"y":110,"l":50,"h":170},{"s":"b5","x":2.8,"y":140,"l":80,"h":200},{"s":"b5","x":3.0,"y":170,"l":100,"h":240},{"s":"b5","x":3.3,"y":180,"l":110,"h":250},{"s":"b5","x":3.6,"y":200,"l":130,"h":270},{"s":"b5","x":3.9,"y":210,"l":140,"h":280},{"s":"b5","x":4.2,"y":220,"l":150,"h":290},{"s":"b5","x":4.5,"y":240,"l":170,"h":310},{"s":"b5","x":4.8,"y":250,"l":180,"h":320},{"s":"b5","x":5.1,"y":240,"l":170,"h":310},{"s":"b5","x":5.4,"y":260,"l":180,"h":340},{"s":"b5","x":5.7,"y":280,"l":200,"h":360},{"s":"b5","x":6.0,"y":270,"l":190,"h":350},{"s":"b5","x":6.3,"y":300,"l":210,"h":390},{"s":"b5","x":6.6,"y":330,"l":230,"h":430},{"s":"b5","x":6.9,"y":370,"l":260,"h":480},{"s":"b5","x":7.2,"y":350,"l":230,"h":470},{"s":"b5","x":7.5,"y":420,"l":280,"h":560},{"s":"b5","x":7.7,"y":470,"l":320,"h":620},{"s":"b5","x":8.0,"y":530,"l":350,"h":710},{"s":"b5","x":8.2,"y":470,"l":290,"h":650},{"s":"b5","x":8.4,"y":420,"l":240,"h":600},{"s":"b5","x":8.6,"y":460,"l":260,"h":660},{"s":"b5","x":8.8,"y":520,"l":300,"h":740},{"s":"b5","x":9.0,"y":560,"l":320,"h":800},{"s":"b5","x":9.2,"y":470,"l":220,"h":720},{"s":"b5","x":9.4,"y":430,"l":200,"h":680},{"s":"b5","x":9.6,"y":580,"l":300,"h":860},{"s":"b5","x":9.8,"y":640,"l":350,"h":930},{"s":"b5","x":10,"y":650,"l":380,"h":920},
{"s":"b1","x":0,"y":10,"l":0,"h":40},{"s":"b1","x":0.3,"y":30,"l":0,"h":70},{"s":"b1","x":0.6,"y":60,"l":20,"h":100},{"s":"b1","x":0.9,"y":70,"l":20,"h":120},{"s":"b1","x":1.2,"y":90,"l":30,"h":150},{"s":"b1","x":1.5,"y":100,"l":30,"h":170},{"s":"b1","x":1.8,"y":120,"l":40,"h":200},{"s":"b1","x":2.1,"y":130,"l":40,"h":220},{"s":"b1","x":2.4,"y":160,"l":60,"h":260},{"s":"b1","x":2.7,"y":180,"l":80,"h":280},{"s":"b1","x":3.0,"y":200,"l":100,"h":300},{"s":"b1","x":3.3,"y":230,"l":130,"h":330},{"s":"b1","x":3.6,"y":260,"l":150,"h":370},{"s":"b1","x":3.9,"y":280,"l":170,"h":390},{"s":"b1","x":4.2,"y":300,"l":190,"h":410},{"s":"b1","x":4.5,"y":310,"l":200,"h":430},{"s":"b1","x":4.8,"y":340,"l":210,"h":470},{"s":"b1","x":5.0,"y":370,"l":230,"h":510},{"s":"b1","x":5.2,"y":390,"l":240,"h":540},{"s":"b1","x":5.4,"y":380,"l":230,"h":530},{"s":"b1","x":5.6,"y":420,"l":270,"h":570},{"s":"b1","x":5.8,"y":440,"l":290,"h":590},{"s":"b1","x":6.0,"y":440,"l":290,"h":590},{"s":"b1","x":6.2,"y":430,"l":280,"h":580},{"s":"b1","x":6.4,"y":460,"l":300,"h":620},{"s":"b1","x":6.6,"y":490,"l":330,"h":650},{"s":"b1","x":6.8,"y":470,"l":310,"h":630},{"s":"b1","x":7.0,"y":440,"l":270,"h":610},{"s":"b1","x":7.2,"y":410,"l":230,"h":590},{"s":"b1","x":7.4,"y":480,"l":280,"h":680},{"s":"b1","x":7.6,"y":560,"l":330,"h":790},{"s":"b1","x":7.8,"y":650,"l":400,"h":900},{"s":"b1","x":8.0,"y":660,"l":410,"h":910},{"s":"b1","x":8.2,"y":630,"l":380,"h":880},{"s":"b1","x":8.4,"y":610,"l":360,"h":860},{"s":"b1","x":8.6,"y":560,"l":310,"h":810},{"s":"b1","x":8.8,"y":620,"l":350,"h":900},{"s":"b1","x":9.0,"y":680,"l":400,"h":1000},{"s":"b1","x":9.2,"y":770,"l":470,"h":1070},{"s":"b1","x":9.4,"y":720,"l":420,"h":1020},{"s":"b1","x":9.6,"y":690,"l":400,"h":1000},{"s":"b1","x":9.8,"y":740,"l":450,"h":1050},{"s":"b1","x":10,"y":790,"l":550,"h":1050}
],
"walk":[
{"s":"a0","x":0,"y":0,"l":0,"h":0},{"s":"a0","x":0.1,"y":500,"l":400,"h":600},{"s":"a0","x":0.2,"y":700,"l":600,"h":800},{"s":"a0","x":0.3,"y":850,"l":750,"h":950},{"s":"a0","x":0.4,"y":1000,"l":850,"h":1150},{"s":"a0","x":0.5,"y":1100,"l":950,"h":1250},{"s":"a0","x":0.6,"y":1250,"l":1100,"h":1400},{"s":"a0","x":0.7,"y":1500,"l":1300,"h":1700},{"s":"a0","x":0.8,"y":1750,"l":1550,"h":1950},{"s":"a0","x":0.9,"y":1900,"l":1650,"h":2150},{"s":"a0","x":1.0,"y":2000,"l":1750,"h":2250},{"s":"a0","x":1.1,"y":2100,"l":1850,"h":2350},{"s":"a0","x":1.2,"y":2200,"l":1950,"h":2450},{"s":"a0","x":1.3,"y":2300,"l":2050,"h":2550},{"s":"a0","x":1.4,"y":2450,"l":2200,"h":2700},{"s":"a0","x":1.5,"y":2350,"l":2100,"h":2600},{"s":"a0","x":1.6,"y":2600,"l":2350,"h":2850},{"s":"a0","x":1.7,"y":2700,"l":2450,"h":2950},{"s":"a0","x":1.8,"y":2600,"l":2300,"h":2900},{"s":"a0","x":1.9,"y":2500,"l":2150,"h":2850},{"s":"a0","x":2.0,"y":2300,"l":2000,"h":2600},{"s":"a0","x":2.1,"y":2250,"l":1950,"h":2550},{"s":"a0","x":2.2,"y":2500,"l":2250,"h":2750},{"s":"a0","x":2.3,"y":2700,"l":2450,"h":2950},{"s":"a0","x":2.4,"y":2500,"l":2250,"h":2750},{"s":"a0","x":2.5,"y":2700,"l":2450,"h":2950},{"s":"a0","x":2.6,"y":2800,"l":2550,"h":3050},{"s":"a0","x":2.7,"y":2900,"l":2650,"h":3150},{"s":"a0","x":2.8,"y":3000,"l":2750,"h":3250},{"s":"a0","x":2.9,"y":3100,"l":2850,"h":3350},{"s":"a0","x":3.0,"y":3050,"l":2800,"h":3300},{"s":"a0","x":3.1,"y":3000,"l":2750,"h":3250},{"s":"a0","x":3.2,"y":3050,"l":2800,"h":3300},{"s":"a0","x":3.3,"y":2950,"l":2700,"h":3200},{"s":"a0","x":3.4,"y":2500,"l":2250,"h":2750},{"s":"a0","x":3.5,"y":2200,"l":1950,"h":2450},{"s":"a0","x":3.6,"y":2300,"l":2050,"h":2550},{"s":"a0","x":3.7,"y":2600,"l":2350,"h":2850},{"s":"a0","x":3.8,"y":2600,"l":2350,"h":2850},{"s":"a0","x":3.9,"y":2550,"l":2300,"h":2800},{"s":"a0","x":4.0,"y":2500,"l":2250,"h":2750},{"s":"a0","x":4.1,"y":2400,"l":2150,"h":2650},{"s":"a0","x":4.2,"y":2500,"l":2250,"h":2750},{"s":"a0","x":4.3,"y":2700,"l":2450,"h":2950},{"s":"a0","x":4.4,"y":2800,"l":2550,"h":3050},{"s":"a0","x":4.5,"y":2900,"l":2650,"h":3150},{"s":"a0","x":4.6,"y":3000,"l":2750,"h":3250},{"s":"a0","x":4.7,"y":2900,"l":2650,"h":3150},{"s":"a0","x":4.8,"y":2600,"l":2350,"h":2850},{"s":"a0","x":4.9,"y":2500,"l":2250,"h":2750},{"s":"a0","x":5.0,"y":3000,"l":2750,"h":3250},
{"s":"a5","x":0,"y":0,"l":0,"h":0},{"s":"a5","x":0.1,"y":500,"l":400,"h":600},{"s":"a5","x":0.2,"y":750,"l":600,"h":900},{"s":"a5","x":0.3,"y":700,"l":550,"h":850},{"s":"a5","x":0.4,"y":620,"l":470,"h":770},{"s":"a5","x":0.45,"y":750,"l":600,"h":900},{"s":"a5","x":0.5,"y":900,"l":750,"h":1050},{"s":"a5","x":0.55,"y":800,"l":650,"h":950},{"s":"a5","x":0.6,"y":850,"l":700,"h":1000},{"s":"a5","x":0.7,"y":1100,"l":950,"h":1250},{"s":"a5","x":0.8,"y":1500,"l":1300,"h":1700},{"s":"a5","x":0.9,"y":1800,"l":1600,"h":2000},{"s":"a5","x":1.0,"y":2000,"l":1800,"h":2200},{"s":"a5","x":1.1,"y":1950,"l":1750,"h":2150},{"s":"a5","x":1.2,"y":2000,"l":1750,"h":2250},{"s":"a5","x":1.25,"y":1650,"l":1300,"h":2000},{"s":"a5","x":1.3,"y":2400,"l":2150,"h":2650},{"s":"a5","x":1.4,"y":2700,"l":2450,"h":2950},{"s":"a5","x":1.5,"y":2900,"l":2650,"h":3150},{"s":"a5","x":1.6,"y":2700,"l":2450,"h":2950},{"s":"a5","x":1.7,"y":3000,"l":2750,"h":3250},{"s":"a5","x":1.8,"y":2600,"l":2350,"h":2850},{"s":"a5","x":1.9,"y":2750,"l":2500,"h":3000},{"s":"a5","x":2.0,"y":2900,"l":2650,"h":3150},{"s":"a5","x":2.1,"y":3000,"l":2750,"h":3250},{"s":"a5","x":2.2,"y":3200,"l":2950,"h":3450},{"s":"a5","x":2.3,"y":2900,"l":2650,"h":3150},{"s":"a5","x":2.4,"y":3100,"l":2850,"h":3350},{"s":"a5","x":2.5,"y":2800,"l":2500,"h":3100},{"s":"a5","x":2.6,"y":2500,"l":2000,"h":3000},{"s":"a5","x":2.67,"y":2000,"l":900,"h":2500},{"s":"a5","x":2.75,"y":2700,"l":2300,"h":3100},{"s":"a5","x":2.85,"y":2900,"l":2650,"h":3150},{"s":"a5","x":3.0,"y":3300,"l":3050,"h":3550},{"s":"a5","x":3.1,"y":3100,"l":2850,"h":3350},{"s":"a5","x":3.2,"y":3000,"l":2800,"h":3200},{"s":"a5","x":3.3,"y":2900,"l":2700,"h":3100},{"s":"a5","x":3.4,"y":2700,"l":2500,"h":2900},{"s":"a5","x":3.5,"y":2600,"l":2400,"h":2800},{"s":"a5","x":3.6,"y":2500,"l":2300,"h":2700},{"s":"a5","x":3.7,"y":2700,"l":2500,"h":2900},{"s":"a5","x":3.8,"y":2600,"l":2400,"h":2800},{"s":"a5","x":3.9,"y":2800,"l":2600,"h":3000},{"s":"a5","x":4.0,"y":2800,"l":2600,"h":3000},{"s":"a5","x":4.1,"y":2750,"l":2550,"h":2950},{"s":"a5","x":4.2,"y":2600,"l":2400,"h":2800},{"s":"a5","x":4.3,"y":2700,"l":2500,"h":2900},{"s":"a5","x":4.4,"y":2800,"l":2600,"h":3000},{"s":"a5","x":4.5,"y":2750,"l":2550,"h":2950},{"s":"a5","x":4.6,"y":2800,"l":2600,"h":3000},{"s":"a5","x":4.7,"y":2600,"l":2350,"h":2850},{"s":"a5","x":4.8,"y":2400,"l":2100,"h":2700},{"s":"a5","x":4.9,"y":2300,"l":1800,"h":2800},{"s":"a5","x":5.0,"y":2900,"l":2500,"h":3300},
{"s":"am","x":0,"y":0,"l":0,"h":0},{"s":"am","x":0.1,"y":500,"l":400,"h":600},{"s":"am","x":0.2,"y":750,"l":650,"h":850},{"s":"am","x":0.3,"y":950,"l":850,"h":1050},{"s":"am","x":0.4,"y":1150,"l":1000,"h":1300},{"s":"am","x":0.5,"y":1350,"l":1200,"h":1500},{"s":"am","x":0.6,"y":1400,"l":1250,"h":1550},{"s":"am","x":0.7,"y":1600,"l":1400,"h":1800},{"s":"am","x":0.8,"y":1800,"l":1600,"h":2000},{"s":"am","x":0.9,"y":2100,"l":1900,"h":2300},{"s":"am","x":1.0,"y":2300,"l":2100,"h":2500},{"s":"am","x":1.1,"y":2600,"l":2400,"h":2800},{"s":"am","x":1.2,"y":2700,"l":2500,"h":2900},{"s":"am","x":1.3,"y":2600,"l":2400,"h":2800},{"s":"am","x":1.4,"y":2500,"l":2300,"h":2700},{"s":"am","x":1.5,"y":2700,"l":2450,"h":2950},{"s":"am","x":1.6,"y":2900,"l":2600,"h":3200},{"s":"am","x":1.7,"y":3100,"l":2800,"h":3400},{"s":"am","x":1.8,"y":2700,"l":2400,"h":3000},{"s":"am","x":1.9,"y":2600,"l":2300,"h":2900},{"s":"am","x":2.0,"y":2500,"l":2200,"h":2800},{"s":"am","x":2.1,"y":2650,"l":2400,"h":2900},{"s":"am","x":2.2,"y":2750,"l":2500,"h":3000},{"s":"am","x":2.3,"y":2600,"l":2350,"h":2850},{"s":"am","x":2.4,"y":2500,"l":2200,"h":2800},{"s":"am","x":2.5,"y":2650,"l":2350,"h":2950},{"s":"am","x":2.6,"y":2600,"l":2300,"h":2900},{"s":"am","x":2.7,"y":2750,"l":2500,"h":3000},{"s":"am","x":2.8,"y":2700,"l":2500,"h":2900},{"s":"am","x":2.9,"y":2650,"l":2450,"h":2850},{"s":"am","x":3.0,"y":2700,"l":2500,"h":2900},{"s":"am","x":3.1,"y":2800,"l":2600,"h":3000},{"s":"am","x":3.2,"y":2600,"l":2400,"h":2800},{"s":"am","x":3.3,"y":2700,"l":2500,"h":2900},{"s":"am","x":3.4,"y":2800,"l":2600,"h":3000},{"s":"am","x":3.5,"y":2600,"l":2400,"h":2800},{"s":"am","x":3.6,"y":2500,"l":2300,"h":2700},{"s":"am","x":3.7,"y":2400,"l":2200,"h":2600},{"s":"am","x":3.8,"y":2600,"l":2400,"h":2800},{"s":"am","x":3.9,"y":2500,"l":2300,"h":2700},{"s":"am","x":4.0,"y":2650,"l":2450,"h":2850},{"s":"am","x":4.1,"y":2400,"l":2150,"h":2650},{"s":"am","x":4.2,"y":2600,"l":2350,"h":2850},{"s":"am","x":4.3,"y":2300,"l":2050,"h":2550},{"s":"am","x":4.4,"y":2400,"l":2150,"h":2650},{"s":"am","x":4.5,"y":2450,"l":2200,"h":2700},{"s":"am","x":4.6,"y":2300,"l":2000,"h":2600},{"s":"am","x":4.7,"y":2050,"l":1750,"h":2350},{"s":"am","x":4.8,"y":2100,"l":1800,"h":2400},{"s":"am","x":4.9,"y":2300,"l":2000,"h":2600},{"s":"am","x":5.0,"y":2600,"l":2300,"h":2900},
{"s":"b5","x":0,"y":0,"l":0,"h":0},{"s":"b5","x":0.1,"y":500,"l":400,"h":600},{"s":"b5","x":0.2,"y":900,"l":800,"h":1000},{"s":"b5","x":0.3,"y":1100,"l":1000,"h":1200},{"s":"b5","x":0.45,"y":1500,"l":1350,"h":1650},{"s":"b5","x":0.55,"y":1800,"l":1650,"h":1950},{"s":"b5","x":0.65,"y":2100,"l":1900,"h":2300},{"s":"b5","x":0.75,"y":2500,"l":2250,"h":2750},{"s":"b5","x":0.85,"y":2800,"l":2550,"h":3050},{"s":"b5","x":0.95,"y":3000,"l":2750,"h":3250},{"s":"b5","x":1.05,"y":3200,"l":2950,"h":3450},{"s":"b5","x":1.15,"y":3300,"l":3050,"h":3550},{"s":"b5","x":1.25,"y":2900,"l":2650,"h":3150},{"s":"b5","x":1.35,"y":3700,"l":3450,"h":3950},{"s":"b5","x":1.45,"y":3800,"l":3550,"h":4050},{"s":"b5","x":1.55,"y":3900,"l":3700,"h":4100},{"s":"b5","x":1.7,"y":4050,"l":3850,"h":4250},{"s":"b5","x":1.8,"y":3800,"l":3600,"h":4000},{"s":"b5","x":1.85,"y":3600,"l":3400,"h":3800},{"s":"b5","x":1.95,"y":3900,"l":3700,"h":4100},{"s":"b5","x":2.05,"y":3800,"l":3600,"h":4000},{"s":"b5","x":2.2,"y":4000,"l":3800,"h":4200},{"s":"b5","x":2.3,"y":3900,"l":3700,"h":4100},{"s":"b5","x":2.4,"y":3800,"l":3600,"h":4000},{"s":"b5","x":2.5,"y":4100,"l":3900,"h":4300},{"s":"b5","x":2.6,"y":3900,"l":3700,"h":4100},{"s":"b5","x":2.7,"y":4000,"l":3800,"h":4200},{"s":"b5","x":2.8,"y":4200,"l":4000,"h":4400},{"s":"b5","x":2.9,"y":4000,"l":3800,"h":4200},{"s":"b5","x":3.0,"y":3900,"l":3700,"h":4100},{"s":"b5","x":3.1,"y":3950,"l":3750,"h":4150},{"s":"b5","x":3.2,"y":3800,"l":3600,"h":4000},{"s":"b5","x":3.35,"y":3600,"l":3400,"h":3800},{"s":"b5","x":3.45,"y":3400,"l":3200,"h":3600},{"s":"b5","x":3.55,"y":3100,"l":2900,"h":3300},{"s":"b5","x":3.65,"y":3600,"l":3400,"h":3800},{"s":"b5","x":3.75,"y":4000,"l":3800,"h":4200},{"s":"b5","x":3.8,"y":4300,"l":4050,"h":4550},{"s":"b5","x":3.9,"y":3900,"l":3650,"h":4150},{"s":"b5","x":3.95,"y":3700,"l":3450,"h":3950},{"s":"b5","x":4.05,"y":3300,"l":3050,"h":3550},{"s":"b5","x":4.15,"y":3500,"l":3250,"h":3750},{"s":"b5","x":4.25,"y":3800,"l":3550,"h":4050},{"s":"b5","x":4.35,"y":3600,"l":3350,"h":3850},{"s":"b5","x":4.45,"y":3500,"l":3250,"h":3750},{"s":"b5","x":4.55,"y":3900,"l":3650,"h":4150},{"s":"b5","x":4.65,"y":4100,"l":3850,"h":4350},{"s":"b5","x":4.72,"y":4700,"l":4400,"h":5000},{"s":"b5","x":4.8,"y":4400,"l":4100,"h":4700},{"s":"b5","x":4.9,"y":4250,"l":4000,"h":4500},{"s":"b5","x":5.0,"y":4150,"l":3900,"h":4400},
{"s":"b1","x":0,"y":0,"l":0,"h":0},{"s":"b1","x":0.1,"y":500,"l":400,"h":600},{"s":"b1","x":0.2,"y":800,"l":700,"h":900},{"s":"b1","x":0.3,"y":1000,"l":900,"h":1100},{"s":"b1","x":0.4,"y":1250,"l":1150,"h":1350},{"s":"b1","x":0.45,"y":1400,"l":1300,"h":1500},{"s":"b1","x":0.5,"y":1600,"l":1500,"h":1700},{"s":"b1","x":0.6,"y":1650,"l":1500,"h":1800},{"s":"b1","x":0.65,"y":1700,"l":1550,"h":1850},{"s":"b1","x":0.7,"y":1900,"l":1600,"h":2200},{"s":"b1","x":0.8,"y":2500,"l":2100,"h":2900},{"s":"b1","x":0.85,"y":2800,"l":2400,"h":3200},{"s":"b1","x":0.95,"y":3000,"l":2600,"h":3400},{"s":"b1","x":1.05,"y":3300,"l":2900,"h":3700},{"s":"b1","x":1.15,"y":3200,"l":2800,"h":3600},{"s":"b1","x":1.25,"y":3500,"l":3100,"h":3900},{"s":"b1","x":1.35,"y":3700,"l":3400,"h":4000},{"s":"b1","x":1.5,"y":3850,"l":3600,"h":4100},{"s":"b1","x":1.65,"y":3900,"l":3650,"h":4150},{"s":"b1","x":1.75,"y":3800,"l":3500,"h":4100},{"s":"b1","x":1.8,"y":3500,"l":3100,"h":3900},{"s":"b1","x":1.9,"y":3800,"l":3350,"h":4250},{"s":"b1","x":2.0,"y":4250,"l":3800,"h":4700},{"s":"b1","x":2.1,"y":3900,"l":3500,"h":4300},{"s":"b1","x":2.2,"y":3700,"l":3400,"h":4000},{"s":"b1","x":2.3,"y":3900,"l":3600,"h":4200},{"s":"b1","x":2.4,"y":3600,"l":3300,"h":3900},{"s":"b1","x":2.5,"y":3300,"l":3000,"h":3600},{"s":"b1","x":2.6,"y":3600,"l":3300,"h":3900},{"s":"b1","x":2.7,"y":3200,"l":2900,"h":3500},{"s":"b1","x":2.8,"y":3600,"l":3300,"h":3900},{"s":"b1","x":2.9,"y":3700,"l":3450,"h":3950},{"s":"b1","x":3.0,"y":3800,"l":3550,"h":4050},{"s":"b1","x":3.1,"y":3700,"l":3450,"h":3950},{"s":"b1","x":3.2,"y":3750,"l":3500,"h":4000},{"s":"b1","x":3.3,"y":3600,"l":3350,"h":3850},{"s":"b1","x":3.4,"y":3500,"l":3250,"h":3750},{"s":"b1","x":3.5,"y":3400,"l":3150,"h":3650},{"s":"b1","x":3.6,"y":3200,"l":2950,"h":3450},{"s":"b1","x":3.7,"y":3350,"l":3100,"h":3600},{"s":"b1","x":3.8,"y":3600,"l":3350,"h":3850},{"s":"b1","x":3.9,"y":3700,"l":3450,"h":3950},{"s":"b1","x":4.0,"y":3300,"l":3050,"h":3550},{"s":"b1","x":4.1,"y":3400,"l":3150,"h":3650},{"s":"b1","x":4.2,"y":3650,"l":3400,"h":3900},{"s":"b1","x":4.3,"y":3800,"l":3550,"h":4050},{"s":"b1","x":4.4,"y":3700,"l":3450,"h":3950},{"s":"b1","x":4.5,"y":3600,"l":3350,"h":3850},{"s":"b1","x":4.6,"y":3900,"l":3600,"h":4200},{"s":"b1","x":4.7,"y":4100,"l":3700,"h":4500},{"s":"b1","x":4.8,"y":3500,"l":3100,"h":3900},{"s":"b1","x":4.9,"y":3400,"l":2950,"h":3850},{"s":"b1","x":4.95,"y":3300,"l":2800,"h":3800},{"s":"b1","x":5.0,"y":3800,"l":3300,"h":4300}
],
"hop":[
{"s":"a0","x":0,"y":0,"l":0,"h":0},{"s":"a0","x":0.05,"y":450,"l":350,"h":550},{"s":"a0","x":0.1,"y":900,"l":700,"h":1100},{"s":"a0","x":0.15,"y":1500,"l":1250,"h":1750},{"s":"a0","x":0.18,"y":1800,"l":1500,"h":2100},{"s":"a0","x":0.21,"y":1400,"l":1100,"h":1700},{"s":"a0","x":0.25,"y":1050,"l":800,"h":1300},{"s":"a0","x":0.28,"y":1400,"l":1050,"h":1750},{"s":"a0","x":0.32,"y":1900,"l":1450,"h":2350},{"s":"a0","x":0.35,"y":2100,"l":1600,"h":2600},{"s":"a0","x":0.38,"y":2000,"l":1400,"h":2600},{"s":"a0","x":0.42,"y":1900,"l":1300,"h":2500},{"s":"a0","x":0.45,"y":2000,"l":1400,"h":2600},{"s":"a0","x":0.5,"y":2300,"l":1800,"h":2800},{"s":"a0","x":0.55,"y":2500,"l":2050,"h":2950},{"s":"a0","x":0.6,"y":2700,"l":2350,"h":3050},{"s":"a0","x":0.65,"y":2800,"l":2500,"h":3100},{"s":"a0","x":0.7,"y":2850,"l":2550,"h":3150},{"s":"a0","x":0.73,"y":2600,"l":2250,"h":2950},{"s":"a0","x":0.78,"y":2400,"l":2000,"h":2800},{"s":"a0","x":0.82,"y":2500,"l":2050,"h":2950},{"s":"a0","x":0.86,"y":2300,"l":1850,"h":2750},{"s":"a0","x":0.9,"y":2400,"l":1950,"h":2850},{"s":"a0","x":0.95,"y":2250,"l":1800,"h":2700},{"s":"a0","x":1.0,"y":2150,"l":1700,"h":2600},{"s":"a0","x":1.05,"y":2200,"l":1700,"h":2700},{"s":"a0","x":1.1,"y":2100,"l":1600,"h":2600},{"s":"a0","x":1.15,"y":2300,"l":1750,"h":2850},{"s":"a0","x":1.2,"y":2400,"l":1700,"h":3000},{"s":"a0","x":1.25,"y":2200,"l":1500,"h":2900},{"s":"a0","x":1.3,"y":2250,"l":1600,"h":2900},{"s":"a0","x":1.35,"y":2200,"l":1600,"h":2800},{"s":"a0","x":1.4,"y":2300,"l":1700,"h":2900},{"s":"a0","x":1.45,"y":2100,"l":1600,"h":2600},{"s":"a0","x":1.5,"y":2300,"l":1800,"h":2800},{"s":"a0","x":1.55,"y":2500,"l":2000,"h":3000},{"s":"a0","x":1.6,"y":2600,"l":2100,"h":3100},{"s":"a0","x":1.65,"y":2500,"l":2000,"h":3000},{"s":"a0","x":1.7,"y":2600,"l":2100,"h":3100},{"s":"a0","x":1.75,"y":2700,"l":2200,"h":3200},{"s":"a0","x":1.8,"y":2450,"l":1950,"h":2950},{"s":"a0","x":1.85,"y":2500,"l":2000,"h":3000},{"s":"a0","x":1.9,"y":2600,"l":2100,"h":3100},{"s":"a0","x":1.95,"y":2700,"l":2100,"h":3300},{"s":"a0","x":2.0,"y":2200,"l":1700,"h":2700},
{"s":"a5","x":0,"y":0,"l":0,"h":0},{"s":"a5","x":0.05,"y":500,"l":400,"h":600},{"s":"a5","x":0.1,"y":800,"l":600,"h":1000},{"s":"a5","x":0.15,"y":1300,"l":1050,"h":1550},{"s":"a5","x":0.2,"y":1900,"l":1650,"h":2150},{"s":"a5","x":0.25,"y":2300,"l":2050,"h":2550},{"s":"a5","x":0.3,"y":2400,"l":2150,"h":2650},{"s":"a5","x":0.35,"y":2250,"l":2000,"h":2500},{"s":"a5","x":0.38,"y":2150,"l":1900,"h":2400},{"s":"a5","x":0.42,"y":2500,"l":2250,"h":2750},{"s":"a5","x":0.46,"y":2700,"l":2450,"h":2950},{"s":"a5","x":0.5,"y":2650,"l":2400,"h":2900},{"s":"a5","x":0.55,"y":2700,"l":2450,"h":2950},{"s":"a5","x":0.6,"y":2800,"l":2550,"h":3050},{"s":"a5","x":0.65,"y":2750,"l":2500,"h":3000},{"s":"a5","x":0.7,"y":2800,"l":2600,"h":3000},{"s":"a5","x":0.75,"y":2900,"l":2700,"h":3100},{"s":"a5","x":0.8,"y":2950,"l":2750,"h":3150},{"s":"a5","x":0.85,"y":3000,"l":2800,"h":3200},{"s":"a5","x":0.9,"y":3000,"l":2800,"h":3200},{"s":"a5","x":0.95,"y":3050,"l":2850,"h":3250},{"s":"a5","x":1.0,"y":3050,"l":2850,"h":3250},{"s":"a5","x":1.05,"y":3100,"l":2900,"h":3300},{"s":"a5","x":1.1,"y":2800,"l":2600,"h":3000},{"s":"a5","x":1.15,"y":2950,"l":2750,"h":3150},{"s":"a5","x":1.2,"y":3000,"l":2800,"h":3200},{"s":"a5","x":1.25,"y":3050,"l":2850,"h":3250},{"s":"a5","x":1.3,"y":2900,"l":2700,"h":3100},{"s":"a5","x":1.35,"y":2850,"l":2650,"h":3050},{"s":"a5","x":1.4,"y":3000,"l":2800,"h":3200},{"s":"a5","x":1.45,"y":3100,"l":2900,"h":3300},{"s":"a5","x":1.5,"y":3150,"l":2950,"h":3350},{"s":"a5","x":1.55,"y":3200,"l":3000,"h":3400},{"s":"a5","x":1.6,"y":3200,"l":3000,"h":3400},{"s":"a5","x":1.65,"y":3250,"l":3050,"h":3450},{"s":"a5","x":1.7,"y":3200,"l":2950,"h":3450},{"s":"a5","x":1.75,"y":3200,"l":2900,"h":3500},{"s":"a5","x":1.8,"y":3150,"l":2800,"h":3500},{"s":"a5","x":1.85,"y":3100,"l":2600,"h":3600},{"s":"a5","x":1.9,"y":2500,"l":1900,"h":3100},{"s":"a5","x":1.95,"y":2300,"l":1600,"h":3000},{"s":"a5","x":2.0,"y":2800,"l":2100,"h":3400},
{"s":"am","x":0,"y":0,"l":0,"h":0},{"s":"am","x":0.05,"y":450,"l":350,"h":550},{"s":"am","x":0.1,"y":800,"l":600,"h":1000},{"s":"am","x":0.15,"y":1400,"l":1150,"h":1650},{"s":"am","x":0.2,"y":2000,"l":1750,"h":2250},{"s":"am","x":0.25,"y":2300,"l":2050,"h":2550},{"s":"am","x":0.3,"y":2600,"l":2350,"h":2850},{"s":"am","x":0.35,"y":2300,"l":2050,"h":2550},{"s":"am","x":0.4,"y":2550,"l":2300,"h":2800},{"s":"am","x":0.45,"y":2600,"l":2300,"h":2900},{"s":"am","x":0.5,"y":2600,"l":2250,"h":2950},{"s":"am","x":0.55,"y":2500,"l":2150,"h":2850},{"s":"am","x":0.6,"y":2550,"l":2200,"h":2900},{"s":"am","x":0.65,"y":2700,"l":2400,"h":3000},{"s":"am","x":0.7,"y":2800,"l":2550,"h":3050},{"s":"am","x":0.75,"y":2900,"l":2650,"h":3150},{"s":"am","x":0.8,"y":2750,"l":2500,"h":3000},{"s":"am","x":0.85,"y":2750,"l":2500,"h":3000},{"s":"am","x":0.9,"y":2800,"l":2550,"h":3050},{"s":"am","x":0.95,"y":2750,"l":2500,"h":3000},{"s":"am","x":1.0,"y":2650,"l":2400,"h":2900},{"s":"am","x":1.05,"y":2700,"l":2450,"h":2950},{"s":"am","x":1.08,"y":2400,"l":2150,"h":2650},{"s":"am","x":1.12,"y":2800,"l":2550,"h":3050},{"s":"am","x":1.18,"y":2700,"l":2450,"h":2950},{"s":"am","x":1.25,"y":2750,"l":2500,"h":3000},{"s":"am","x":1.3,"y":2800,"l":2550,"h":3050},{"s":"am","x":1.35,"y":2900,"l":2650,"h":3150},{"s":"am","x":1.4,"y":2750,"l":2500,"h":3000},{"s":"am","x":1.45,"y":2600,"l":2300,"h":2900},{"s":"am","x":1.5,"y":2900,"l":2650,"h":3150},{"s":"am","x":1.55,"y":3000,"l":2750,"h":3250},{"s":"am","x":1.6,"y":2950,"l":2700,"h":3200},{"s":"am","x":1.65,"y":3100,"l":2850,"h":3350},{"s":"am","x":1.7,"y":3150,"l":2900,"h":3400},{"s":"am","x":1.75,"y":3150,"l":2900,"h":3400},{"s":"am","x":1.8,"y":3150,"l":2900,"h":3400},{"s":"am","x":1.85,"y":3050,"l":2750,"h":3350},{"s":"am","x":1.9,"y":2600,"l":2250,"h":2950},{"s":"am","x":1.95,"y":2800,"l":2450,"h":3150},{"s":"am","x":2.0,"y":3100,"l":2800,"h":3400},
{"s":"b5","x":0,"y":0,"l":0,"h":0},{"s":"b5","x":0.05,"y":700,"l":550,"h":850},{"s":"b5","x":0.1,"y":1300,"l":1000,"h":1600},{"s":"b5","x":0.15,"y":2000,"l":1650,"h":2350},{"s":"b5","x":0.19,"y":2500,"l":2150,"h":2850},{"s":"b5","x":0.22,"y":2300,"l":2000,"h":2600},{"s":"b5","x":0.25,"y":2600,"l":2250,"h":2950},{"s":"b5","x":0.28,"y":3000,"l":2650,"h":3350},{"s":"b5","x":0.3,"y":2900,"l":2600,"h":3200},{"s":"b5","x":0.35,"y":3300,"l":3050,"h":3550},{"s":"b5","x":0.38,"y":3400,"l":3150,"h":3650},{"s":"b5","x":0.42,"y":3300,"l":3050,"h":3550},{"s":"b5","x":0.45,"y":3500,"l":3250,"h":3750},{"s":"b5","x":0.5,"y":3600,"l":3350,"h":3850},{"s":"b5","x":0.55,"y":3650,"l":3450,"h":3850},{"s":"b5","x":0.6,"y":3700,"l":3500,"h":3900},{"s":"b5","x":0.65,"y":3600,"l":3400,"h":3800},{"s":"b5","x":0.7,"y":3650,"l":3450,"h":3850},{"s":"b5","x":0.75,"y":3400,"l":3150,"h":3650},{"s":"b5","x":0.8,"y":3500,"l":3250,"h":3750},{"s":"b5","x":0.85,"y":3600,"l":3350,"h":3850},{"s":"b5","x":0.88,"y":3550,"l":3300,"h":3800},{"s":"b5","x":0.92,"y":3200,"l":3000,"h":3400},{"s":"b5","x":0.96,"y":3300,"l":3100,"h":3500},{"s":"b5","x":1.0,"y":3400,"l":3200,"h":3600},{"s":"b5","x":1.05,"y":3500,"l":3300,"h":3700},{"s":"b5","x":1.1,"y":3650,"l":3450,"h":3850},{"s":"b5","x":1.15,"y":3750,"l":3550,"h":3950},{"s":"b5","x":1.2,"y":3800,"l":3600,"h":4000},{"s":"b5","x":1.3,"y":3850,"l":3600,"h":4100},{"s":"b5","x":1.4,"y":3900,"l":3650,"h":4150},{"s":"b5","x":1.5,"y":3900,"l":3650,"h":4150},{"s":"b5","x":1.6,"y":3950,"l":3700,"h":4200},{"s":"b5","x":1.65,"y":3900,"l":3650,"h":4150},{"s":"b5","x":1.68,"y":3300,"l":2900,"h":3700},{"s":"b5","x":1.72,"y":3000,"l":2600,"h":3400},{"s":"b5","x":1.8,"y":3050,"l":2700,"h":3400},{"s":"b5","x":1.85,"y":3150,"l":2800,"h":3500},{"s":"b5","x":1.9,"y":3200,"l":2900,"h":3500},{"s":"b5","x":1.95,"y":3400,"l":3150,"h":3650},{"s":"b5","x":2.0,"y":3850,"l":3650,"h":4050},
{"s":"b1","x":0,"y":0,"l":0,"h":0},{"s":"b1","x":0.05,"y":600,"l":500,"h":700},{"s":"b1","x":0.1,"y":1000,"l":850,"h":1150},{"s":"b1","x":0.15,"y":1700,"l":1500,"h":1900},{"s":"b1","x":0.18,"y":1900,"l":1700,"h":2100},{"s":"b1","x":0.22,"y":2100,"l":1900,"h":2300},{"s":"b1","x":0.25,"y":2050,"l":1850,"h":2250},{"s":"b1","x":0.27,"y":1950,"l":1700,"h":2200},{"s":"b1","x":0.3,"y":2300,"l":2050,"h":2550},{"s":"b1","x":0.33,"y":2600,"l":2300,"h":2900},{"s":"b1","x":0.36,"y":3000,"l":2700,"h":3300},{"s":"b1","x":0.4,"y":3300,"l":3050,"h":3550},{"s":"b1","x":0.43,"y":3200,"l":2950,"h":3450},{"s":"b1","x":0.47,"y":3350,"l":3100,"h":3600},{"s":"b1","x":0.5,"y":3550,"l":3300,"h":3800},{"s":"b1","x":0.53,"y":3500,"l":3250,"h":3750},{"s":"b1","x":0.57,"y":3450,"l":3200,"h":3700},{"s":"b1","x":0.6,"y":3500,"l":3250,"h":3750},{"s":"b1","x":0.63,"y":3350,"l":3100,"h":3600},{"s":"b1","x":0.67,"y":3200,"l":2950,"h":3450},{"s":"b1","x":0.7,"y":3250,"l":3000,"h":3500},{"s":"b1","x":0.73,"y":3450,"l":3200,"h":3700},{"s":"b1","x":0.77,"y":3200,"l":2950,"h":3450},{"s":"b1","x":0.8,"y":3250,"l":3000,"h":3500},{"s":"b1","x":0.84,"y":3300,"l":3050,"h":3550},{"s":"b1","x":0.88,"y":3100,"l":2850,"h":3350},{"s":"b1","x":0.9,"y":2950,"l":2750,"h":3150},{"s":"b1","x":0.93,"y":3300,"l":3100,"h":3500},{"s":"b1","x":0.97,"y":3400,"l":3200,"h":3600},{"s":"b1","x":1.0,"y":3450,"l":3250,"h":3650},{"s":"b1","x":1.05,"y":3500,"l":3300,"h":3700},{"s":"b1","x":1.1,"y":3550,"l":3350,"h":3750},{"s":"b1","x":1.15,"y":3650,"l":3450,"h":3850},{"s":"b1","x":1.2,"y":3700,"l":3500,"h":3900},{"s":"b1","x":1.25,"y":3700,"l":3500,"h":3900},{"s":"b1","x":1.3,"y":3650,"l":3500,"h":3800},{"s":"b1","x":1.35,"y":3550,"l":3400,"h":3700},{"s":"b1","x":1.4,"y":3600,"l":3450,"h":3750},{"s":"b1","x":1.5,"y":3650,"l":3500,"h":3800},{"s":"b1","x":1.6,"y":3700,"l":3550,"h":3850},{"s":"b1","x":1.7,"y":3700,"l":3550,"h":3850},{"s":"b1","x":1.75,"y":3750,"l":3600,"h":3900},{"s":"b1","x":1.8,"y":3800,"l":3680,"h":3920},{"s":"b1","x":1.9,"y":3850,"l":3730,"h":3970},{"s":"b1","x":2.0,"y":3850,"l":3730,"h":3970}
],
"swim":[
{"s":"a0","x":0,"y":0,"l":-5,"h":5},{"s":"a0","x":0.01,"y":12,"l":6,"h":18},{"s":"a0","x":0.02,"y":30,"l":22,"h":38},{"s":"a0","x":0.03,"y":65,"l":55,"h":75},{"s":"a0","x":0.04,"y":100,"l":90,"h":110},{"s":"a0","x":0.05,"y":130,"l":120,"h":140},{"s":"a0","x":0.06,"y":152,"l":144,"h":160},{"s":"a0","x":0.07,"y":165,"l":158,"h":172},{"s":"a0","x":0.08,"y":170,"l":163,"h":177},{"s":"a0","x":0.09,"y":172,"l":165,"h":179},{"s":"a0","x":0.1,"y":173,"l":166,"h":180},{"s":"a0","x":0.12,"y":174,"l":167,"h":181},{"s":"a0","x":0.14,"y":173,"l":166,"h":180},{"s":"a0","x":0.16,"y":172,"l":165,"h":179},{"s":"a0","x":0.18,"y":174,"l":167,"h":181},{"s":"a0","x":0.2,"y":176,"l":169,"h":183},{"s":"a0","x":0.22,"y":178,"l":171,"h":185},{"s":"a0","x":0.25,"y":178,"l":171,"h":185},{"s":"a0","x":0.27,"y":176,"l":169,"h":183},{"s":"a0","x":0.29,"y":170,"l":163,"h":177},{"s":"a0","x":0.3,"y":166,"l":159,"h":173},{"s":"a0","x":0.31,"y":170,"l":163,"h":177},{"s":"a0","x":0.33,"y":176,"l":170,"h":182},{"s":"a0","x":0.35,"y":180,"l":174,"h":186},{"s":"a0","x":0.38,"y":185,"l":180,"h":190},{"s":"a0","x":0.4,"y":187,"l":182,"h":192},{"s":"a0","x":0.43,"y":188,"l":183,"h":193},{"s":"a0","x":0.46,"y":189,"l":184,"h":194},{"s":"a0","x":0.5,"y":189,"l":184,"h":194},
{"s":"a5","x":0,"y":-5,"l":-12,"h":2},{"s":"a5","x":0.01,"y":5,"l":-3,"h":13},{"s":"a5","x":0.02,"y":25,"l":15,"h":35},{"s":"a5","x":0.03,"y":55,"l":43,"h":67},{"s":"a5","x":0.04,"y":100,"l":88,"h":112},{"s":"a5","x":0.045,"y":100,"l":88,"h":112},{"s":"a5","x":0.05,"y":95,"l":80,"h":110},{"s":"a5","x":0.055,"y":90,"l":75,"h":105},{"s":"a5","x":0.06,"y":125,"l":112,"h":138},{"s":"a5","x":0.07,"y":145,"l":135,"h":155},{"s":"a5","x":0.08,"y":150,"l":142,"h":158},{"s":"a5","x":0.09,"y":152,"l":145,"h":159},{"s":"a5","x":0.1,"y":155,"l":149,"h":161},{"s":"a5","x":0.11,"y":160,"l":154,"h":166},{"s":"a5","x":0.13,"y":165,"l":159,"h":171},{"s":"a5","x":0.15,"y":168,"l":162,"h":174},{"s":"a5","x":0.18,"y":172,"l":166,"h":178},{"s":"a5","x":0.2,"y":175,"l":169,"h":181},{"s":"a5","x":0.23,"y":177,"l":171,"h":183},{"s":"a5","x":0.26,"y":178,"l":171,"h":185},{"s":"a5","x":0.28,"y":175,"l":168,"h":182},{"s":"a5","x":0.3,"y":168,"l":162,"h":174},{"s":"a5","x":0.31,"y":170,"l":164,"h":176},{"s":"a5","x":0.32,"y":172,"l":166,"h":178},{"s":"a5","x":0.325,"y":165,"l":159,"h":171},{"s":"a5","x":0.33,"y":158,"l":152,"h":164},{"s":"a5","x":0.34,"y":165,"l":159,"h":171},{"s":"a5","x":0.35,"y":172,"l":166,"h":178},{"s":"a5","x":0.36,"y":175,"l":169,"h":181},{"s":"a5","x":0.365,"y":168,"l":162,"h":174},{"s":"a5","x":0.38,"y":178,"l":173,"h":183},{"s":"a5","x":0.4,"y":180,"l":175,"h":185},{"s":"a5","x":0.43,"y":181,"l":176,"h":186},{"s":"a5","x":0.46,"y":182,"l":177,"h":187},{"s":"a5","x":0.48,"y":184,"l":179,"h":189},{"s":"a5","x":0.5,"y":185,"l":180,"h":190},
{"s":"am","x":0,"y":0,"l":-5,"h":5},{"s":"am","x":0.01,"y":10,"l":4,"h":16},{"s":"am","x":0.02,"y":30,"l":22,"h":38},{"s":"am","x":0.03,"y":60,"l":50,"h":70},{"s":"am","x":0.04,"y":95,"l":85,"h":105},{"s":"am","x":0.05,"y":125,"l":115,"h":135},{"s":"am","x":0.06,"y":145,"l":137,"h":153},{"s":"am","x":0.07,"y":158,"l":151,"h":165},{"s":"am","x":0.08,"y":163,"l":157,"h":169},{"s":"am","x":0.1,"y":167,"l":161,"h":173},{"s":"am","x":0.12,"y":165,"l":159,"h":171},{"s":"am","x":0.14,"y":160,"l":153,"h":167},{"s":"am","x":0.15,"y":152,"l":142,"h":162},{"s":"am","x":0.16,"y":158,"l":148,"h":168},{"s":"am","x":0.17,"y":150,"l":140,"h":160},{"s":"am","x":0.18,"y":157,"l":148,"h":166},{"s":"am","x":0.2,"y":163,"l":157,"h":169},{"s":"am","x":0.22,"y":165,"l":159,"h":171},{"s":"am","x":0.24,"y":167,"l":161,"h":173},{"s":"am","x":0.26,"y":163,"l":157,"h":169},{"s":"am","x":0.28,"y":166,"l":160,"h":172},{"s":"am","x":0.3,"y":168,"l":162,"h":174},{"s":"am","x":0.32,"y":170,"l":164,"h":176},{"s":"am","x":0.33,"y":162,"l":152,"h":172},{"s":"am","x":0.34,"y":158,"l":147,"h":169},{"s":"am","x":0.35,"y":168,"l":160,"h":176},{"s":"am","x":0.37,"y":175,"l":169,"h":181},{"s":"am","x":0.4,"y":180,"l":175,"h":185},{"s":"am","x":0.43,"y":183,"l":178,"h":188},{"s":"am","x":0.46,"y":184,"l":179,"h":189},{"s":"am","x":0.5,"y":183,"l":178,"h":188},
{"s":"b5","x":0,"y":5,"l":0,"h":10},{"s":"b5","x":0.01,"y":15,"l":8,"h":22},{"s":"b5","x":0.02,"y":35,"l":25,"h":45},{"s":"b5","x":0.03,"y":70,"l":55,"h":85},{"s":"b5","x":0.04,"y":110,"l":95,"h":125},{"s":"b5","x":0.05,"y":140,"l":125,"h":155},{"s":"b5","x":0.06,"y":160,"l":145,"h":175},{"s":"b5","x":0.07,"y":172,"l":160,"h":184},{"s":"b5","x":0.08,"y":180,"l":170,"h":190},{"s":"b5","x":0.09,"y":185,"l":178,"h":192},{"s":"b5","x":0.1,"y":188,"l":182,"h":194},{"s":"b5","x":0.12,"y":188,"l":183,"h":193},{"s":"b5","x":0.14,"y":190,"l":185,"h":195},{"s":"b5","x":0.16,"y":192,"l":188,"h":196},{"s":"b5","x":0.18,"y":195,"l":191,"h":199},{"s":"b5","x":0.2,"y":197,"l":193,"h":201},{"s":"b5","x":0.22,"y":200,"l":196,"h":204},{"s":"b5","x":0.25,"y":200,"l":196,"h":204},{"s":"b5","x":0.28,"y":198,"l":194,"h":202},{"s":"b5","x":0.3,"y":195,"l":190,"h":200},{"s":"b5","x":0.32,"y":198,"l":194,"h":202},{"s":"b5","x":0.34,"y":200,"l":196,"h":204},{"s":"b5","x":0.36,"y":199,"l":195,"h":203},{"s":"b5","x":0.38,"y":200,"l":196,"h":204},{"s":"b5","x":0.4,"y":202,"l":198,"h":206},{"s":"b5","x":0.42,"y":203,"l":199,"h":207},{"s":"b5","x":0.44,"y":204,"l":200,"h":208},{"s":"b5","x":0.46,"y":206,"l":202,"h":210},{"s":"b5","x":0.48,"y":203,"l":198,"h":208},{"s":"b5","x":0.5,"y":202,"l":197,"h":207},
{"s":"b1","x":0,"y":0,"l":-5,"h":5},{"s":"b1","x":0.01,"y":8,"l":2,"h":14},{"s":"b1","x":0.02,"y":20,"l":12,"h":28},{"s":"b1","x":0.03,"y":45,"l":35,"h":55},{"s":"b1","x":0.04,"y":75,"l":62,"h":88},{"s":"b1","x":0.045,"y":95,"l":80,"h":110},{"s":"b1","x":0.05,"y":105,"l":88,"h":122},{"s":"b1","x":0.055,"y":95,"l":80,"h":110},{"s":"b1","x":0.06,"y":125,"l":110,"h":140},{"s":"b1","x":0.07,"y":150,"l":138,"h":162},{"s":"b1","x":0.08,"y":160,"l":150,"h":170},{"s":"b1","x":0.09,"y":160,"l":152,"h":168},{"s":"b1","x":0.1,"y":163,"l":156,"h":170},{"s":"b1","x":0.11,"y":160,"l":145,"h":172},{"s":"b1","x":0.115,"y":152,"l":125,"h":168},{"s":"b1","x":0.12,"y":160,"l":140,"h":172},{"s":"b1","x":0.13,"y":170,"l":162,"h":178},{"s":"b1","x":0.14,"y":180,"l":174,"h":186},{"s":"b1","x":0.16,"y":190,"l":185,"h":195},{"s":"b1","x":0.18,"y":195,"l":190,"h":200},{"s":"b1","x":0.2,"y":195,"l":191,"h":199},{"s":"b1","x":0.22,"y":193,"l":189,"h":197},{"s":"b1","x":0.25,"y":196,"l":192,"h":200},{"s":"b1","x":0.28,"y":197,"l":193,"h":201},{"s":"b1","x":0.3,"y":195,"l":191,"h":199},{"s":"b1","x":0.32,"y":196,"l":192,"h":200},{"s":"b1","x":0.34,"y":195,"l":188,"h":202},{"s":"b1","x":0.345,"y":180,"l":160,"h":195},{"s":"b1","x":0.35,"y":165,"l":140,"h":190},{"s":"b1","x":0.355,"y":178,"l":155,"h":195},{"s":"b1","x":0.365,"y":195,"l":185,"h":203},{"s":"b1","x":0.38,"y":200,"l":194,"h":206},{"s":"b1","x":0.4,"y":202,"l":196,"h":208},{"s":"b1","x":0.42,"y":203,"l":197,"h":212},{"s":"b1","x":0.44,"y":205,"l":198,"h":213},{"s":"b1","x":0.46,"y":207,"l":200,"h":214},{"s":"b1","x":0.48,"y":206,"l":199,"h":213},{"s":"b1","x":0.5,"y":205,"l":198,"h":212}
]
},
"concat":[
{"title":"Ant","width":221,"height":187,"data":{"name":"ant"},
"encoding":{"x":{"field":"x","type":"quantitative","scale":{"domain":[0,10],"nice":false},"axis":{"values":[0,2,4,6,8,10],"labelOverlap":false,"labelExpr":"datum.value+'M'"}}},
"layer":[
{"mark":{"type":"area","opacity":0.2,"clip":true},"encoding":{"y":{"field":"l","type":"quantitative","scale":{"domain":[-500,4000],"nice":false},"axis":{"values":[-500,0,500,1000,1500,2000,2500,3000,3500,4000],"labelOverlap":false,"format":"d"}},"y2":{"field":"h"},"fill":{"field":"s","type":"nominal","scale":{"domain":["a0","a5","am","b5","b1"],"range":["#9b59b6","#34495e","#3498db","#2ecc71","#e41a1c"]},"legend":null}}},
{"mark":{"type":"line","strokeWidth":1.3,"clip":true},"encoding":{"y":{"field":"y","type":"quantitative","axis":{"values":[-500,0,500,1000,1500,2000,2500,3000,3500,4000],"labelOverlap":false,"format":"d"}},"color":{"field":"s","type":"nominal","scale":{"domain":["a0","a5","am","b5","b1"],"range":["#9b59b6","#34495e","#3498db","#2ecc71","#e41a1c"]},"legend":null}}}
]},
{"title":"HalfCheetah","width":221,"height":187,"data":{"name":"hc"},
"encoding":{"x":{"field":"x","type":"quantitative","scale":{"domain":[0,10],"nice":false},"axis":{"values":[0,2,4,6,8,10],"labelOverlap":false,"labelExpr":"datum.value+'M'"}}},
"layer":[
{"mark":{"type":"area","opacity":0.2,"clip":true},"encoding":{"y":{"field":"l","type":"quantitative","scale":{"domain":[0,14000],"nice":false},"axis":{"values":[0,2000,4000,6000,8000,10000,12000,14000],"labelOverlap":false,"format":"d"}},"y2":{"field":"h"},"fill":{"field":"s","type":"nominal","scale":{"domain":["a0","a5","am","b5","b1"],"range":["#9b59b6","#34495e","#3498db","#2ecc71","#e41a1c"]},"legend":null}}},
{"mark":{"type":"line","strokeWidth":1.3,"clip":true},"encoding":{"y":{"field":"y","type":"quantitative","axis":{"values":[0,2000,4000,6000,8000,10000,12000,14000],"labelOverlap":false,"format":"d"}},"color":{"field":"s","type":"nominal","scale":{"domain":["a0","a5","am","b5","b1"],"range":["#9b59b6","#34495e","#3498db","#2ecc71","#e41a1c"]},"legend":null}}}
]},
{"title":"Humanoid(rllab)","width":221,"height":187,"data":{"name":"hum"},
"encoding":{"x":{"field":"x","type":"quantitative","scale":{"domain":[0,10],"nice":false},"axis":{"values":[0,2,4,6,8,10],"labelOverlap":false,"labelExpr":"datum.value+'M'"}}},
"layer":[
{"mark":{"type":"area","opacity":0.2,"clip":true},"encoding":{"y":{"field":"l","type":"quantitative","scale":{"domain":[0,1000],"nice":false},"axis":{"values":[0,250,500,750,1000],"labelOverlap":false,"format":"d"}},"y2":{"field":"h"},"fill":{"field":"s","type":"nominal","scale":{"domain":["a0","a5","am","b5","b1"],"range":["#9b59b6","#34495e","#3498db","#2ecc71","#e41a1c"]},"legend":null}}},
{"mark":{"type":"line","strokeWidth":1.3,"clip":true},"encoding":{"y":{"field":"y","type":"quantitative","axis":{"values":[0,250,500,750,1000],"labelOverlap":false,"format":"d"}},"color":{"field":"s","type":"nominal","scale":{"domain":["a0","a5","am","b5","b1"],"range":["#9b59b6","#34495e","#3498db","#2ecc71","#e41a1c"]},"legend":null}}}
]},
{"title":"Walker","width":221,"height":190,"data":{"name":"walk"},
"encoding":{"x":{"field":"x","type":"quantitative","scale":{"domain":[0,5],"nice":false},"axis":{"values":[0,1,2,3,4,5],"labelOverlap":false,"labelExpr":"datum.value+'M'"}}},
"layer":[
{"mark":{"type":"area","opacity":0.2,"clip":true},"encoding":{"y":{"field":"l","type":"quantitative","scale":{"domain":[0,5000],"nice":false},"axis":{"values":[0,500,1000,1500,2000,2500,3000,3500,4000,4500,5000],"labelOverlap":false,"format":"d"}},"y2":{"field":"h"},"fill":{"field":"s","type":"nominal","scale":{"domain":["a0","a5","am","b5","b1"],"range":["#9b59b6","#34495e","#3498db","#2ecc71","#e41a1c"]},"legend":null}}},
{"mark":{"type":"line","strokeWidth":1.3,"clip":true},"encoding":{"y":{"field":"y","type":"quantitative","axis":{"values":[0,500,1000,1500,2000,2500,3000,3500,4000,4500,5000],"labelOverlap":false,"format":"d"}},"color":{"field":"s","type":"nominal","scale":{"domain":["a0","a5","am","b5","b1"],"range":["#9b59b6","#34495e","#3498db","#2ecc71","#e41a1c"]},"legend":null}}}
]},
{"title":"Hopper","width":221,"height":190,"data":{"name":"hop"},
"encoding":{"x":{"field":"x","type":"quantitative","scale":{"domain":[0,2],"nice":false},"axis":{"values":[0,0.5,1,1.5,2],"labelOverlap":false,"labelExpr":"format(datum.value,'.1f')+'M'"}}},
"layer":[
{"mark":{"type":"area","opacity":0.2,"clip":true},"encoding":{"y":{"field":"l","type":"quantitative","scale":{"domain":[0,4500],"nice":false},"axis":{"values":[0,500,1000,1500,2000,2500,3000,3500,4000,4500],"labelOverlap":false,"format":"d"}},"y2":{"field":"h"},"fill":{"field":"s","type":"nominal","scale":{"domain":["a0","a5","am","b5","b1"],"range":["#9b59b6","#34495e","#3498db","#2ecc71","#e41a1c"]},"legend":null}}},
{"mark":{"type":"line","strokeWidth":1.3,"clip":true},"encoding":{"y":{"field":"y","type":"quantitative","axis":{"values":[0,500,1000,1500,2000,2500,3000,3500,4000,4500],"labelOverlap":false,"format":"d"}},"color":{"field":"s","type":"nominal","scale":{"domain":["a0","a5","am","b5","b1"],"range":["#9b59b6","#34495e","#3498db","#2ecc71","#e41a1c"]},"legend":null}}}
]},
{"title":"Swimmer(rllab)","width":221,"height":190,"data":{"name":"swim"},
"encoding":{"x":{"field":"x","type":"quantitative","scale":{"domain":[0,0.5],"nice":false},"axis":{"values":[0,0.1,0.2,0.3,0.4,0.5],"labelOverlap":false,"labelExpr":"format(datum.value,'.1f')+'M'"}}},
"layer":[
{"mark":{"type":"area","opacity":0.2,"clip":true},"encoding":{"y":{"field":"l","type":"quantitative","scale":{"domain":[-19,219],"nice":false,"zero":false},"axis":{"values":[0,25,50,75,100,125,150,175,200],"labelOverlap":false,"format":"d"}},"y2":{"field":"h"},"fill":{"field":"s","type":"nominal","scale":{"domain":["a0","a5","am","b5","b1"],"range":["#9b59b6","#34495e","#3498db","#2ecc71","#e41a1c"]},"legend":null}}},
{"mark":{"type":"line","strokeWidth":1.3,"clip":true},"encoding":{"y":{"field":"y","type":"quantitative","axis":{"values":[0,25,50,75,100,125,150,175,200],"labelOverlap":false,"format":"d"}},"color":{"field":"s","type":"nominal","scale":{"domain":["a0","a5","am","b5","b1"],"range":["#9b59b6","#34495e","#3498db","#2ecc71","#e41a1c"]},"legend":{"orient":"none","legendX":163,"legendY":83,"title":null,"symbolType":"stroke","symbolStrokeWidth":2,"symbolSize":650,"labelFont":"Liberation Serif","labelFontSize":14,"labelColor":"#222","clipHeight":17,"rowPadding":0,"padding":0,"labelExpr":"datum.value=='a0'?'α=0.0':datum.value=='a5'?'α=0.5':datum.value=='am'?'α=max':datum.value=='b5'?'β=-0.5':'β=-1.0'"}}}}
]}
]
}
